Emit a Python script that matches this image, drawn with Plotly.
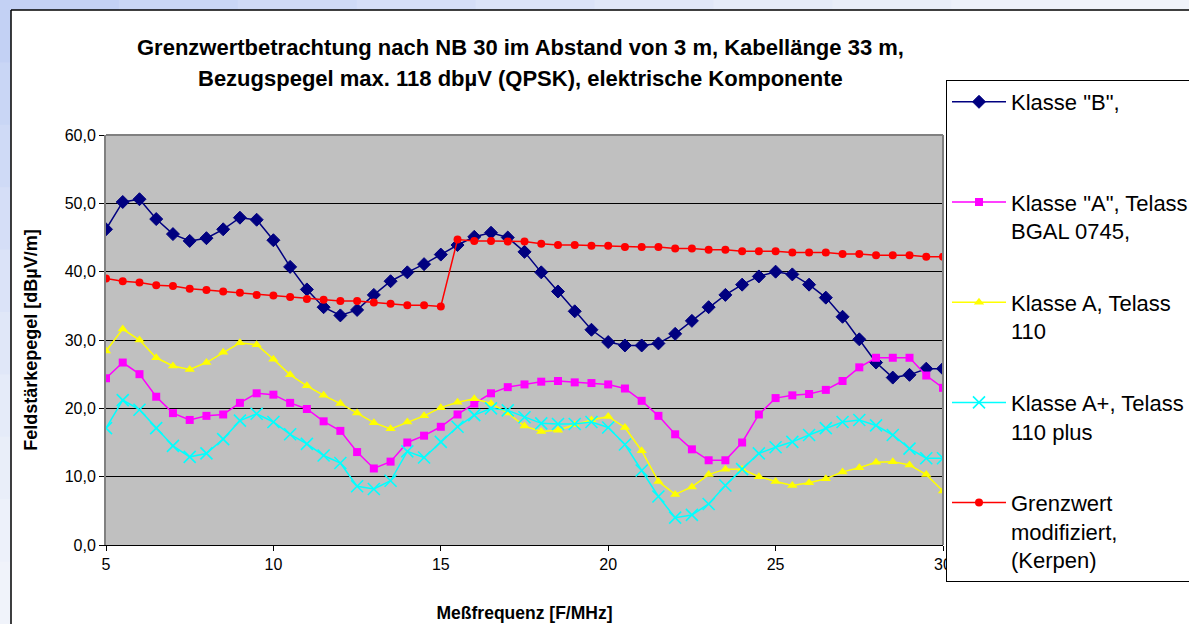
import plotly.graph_objects as go

# Messfrequenz in MHz
freq = [5.0, 5.5, 6.0, 6.5, 7.0, 7.5, 8.0, 8.5, 9.0, 9.5,
        10.0, 10.5, 11.0, 11.5, 12.0, 12.5, 13.0, 13.5, 14.0, 14.5,
        15.0, 15.5, 16.0, 16.5, 17.0, 17.5, 18.0, 18.5, 19.0, 19.5,
        20.0, 20.5, 21.0, 21.5, 22.0, 22.5, 23.0, 23.5, 24.0, 24.5,
        25.0, 25.5, 26.0, 26.5, 27.0, 27.5, 28.0, 28.5, 29.0, 29.5, 30.0]

klasse_b = [46.2, 50.2, 50.6, 47.7, 45.5, 44.5, 44.9, 46.2, 47.9, 47.6,
            44.6, 40.7, 37.4, 34.8, 33.6, 34.4, 36.6, 38.6, 39.9, 41.1,
            42.5, 43.9, 45.1, 45.7, 45.0, 42.9, 39.9, 37.1, 34.2, 31.5,
            29.7, 29.2, 29.2, 29.5, 30.9, 32.8, 34.8, 36.6, 38.1, 39.3,
            40.0, 39.6, 38.1, 36.2, 33.4, 30.1, 26.7, 24.5, 24.9, 25.8, 25.8]

klasse_a_bgal = [24.4, 26.7, 25.0, 21.7, 19.3, 18.3, 18.9, 19.1, 20.8, 22.2,
                 22.0, 20.8, 19.9, 18.1, 16.7, 13.6, 11.2, 12.2, 15.0, 16.0,
                 17.3, 19.1, 20.7, 22.2, 23.1, 23.5, 23.9, 24.0, 23.8, 23.7,
                 23.5, 22.9, 21.1, 18.9, 16.2, 14.0, 12.4, 12.4, 15.0, 19.1,
                 21.5, 21.9, 22.1, 22.7, 24.0, 26.0, 27.4, 27.4, 27.4, 24.8, 23.0]

klasse_a_110 = [28.4, 31.6, 30.0, 27.4, 26.2, 25.7, 26.7, 28.2, 29.6, 29.3,
                27.2, 24.9, 23.3, 21.9, 20.7, 19.3, 17.9, 17.0, 18.0, 18.9,
                20.1, 20.9, 21.4, 20.7, 19.3, 17.4, 16.6, 16.8, 17.6, 18.3,
                18.8, 17.2, 13.8, 9.3, 7.4, 8.5, 10.3, 11.1, 11.1, 10.0,
                9.3, 8.7, 9.1, 9.7, 10.7, 11.3, 12.1, 12.2, 11.7, 10.3, 7.9]

klasse_a_plus = [17.1, 21.2, 19.8, 17.1, 14.5, 12.9, 13.4, 15.5, 18.2, 19.2,
                 18.0, 16.2, 14.8, 13.1, 12.0, 8.6, 8.2, 9.4, 13.7, 12.8,
                 15.1, 17.3, 19.0, 20.0, 19.7, 18.7, 17.8, 17.7, 17.7, 18.0,
                 17.2, 14.7, 10.9, 7.1, 4.0, 4.4, 6.0, 8.7, 11.1, 13.4,
                 14.3, 15.1, 16.1, 17.1, 18.0, 18.3, 17.5, 16.1, 14.1, 12.7, 12.7]

grenzwert = [39.0, 38.6, 38.4, 38.0, 37.9, 37.5, 37.3, 37.1, 36.9, 36.6,
             36.5, 36.3, 36.0, 35.9, 35.7, 35.7, 35.5, 35.3, 35.1, 35.1,
             34.9, 44.7, 44.5, 44.5, 44.4, 44.4, 44.1, 43.9, 43.9, 43.8,
             43.8, 43.6, 43.6, 43.6, 43.4, 43.4, 43.2, 43.2, 43.0, 43.0,
             43.0, 42.8, 42.8, 42.8, 42.6, 42.6, 42.4, 42.4, 42.4, 42.2, 42.2]

W, H = 1189, 624
L, R = 106, 943          # plot area left/right (px)
T, B = 135, 545          # plot area top/bottom (px)
MT, MB = 10, 10          # outer margins, leave room for the tall legend
FONT = "Liberation Sans, Arial, sans-serif"


def px_x(px):
    return (px - L) / (R - L)


def px_y(py):
    return (H - MB - py) / (H - MT - MB)


series = [
    ('Klasse "B",<br> ', klasse_b, "#000080", "diamond", 10, 1),
    ('Klasse "A", Telass<br>BGAL 0745,', klasse_a_bgal, "#FF00FF", "square", 8, 0),
    ("Klasse A, Telass<br>110", klasse_a_110, "#FFFF00", "triangle-up", 9, 0),
    ("Klasse A+, Telass<br>110 plus", klasse_a_plus, "#00FFFF", "x-thin", 12, 1.6),
    ("Grenzwert<br>modifiziert,<br>(Kerpen)", grenzwert, "#FF0000", "circle", 8, 0),
]

fig = go.Figure()
for i, (name, vals, color, symbol, size, lw) in enumerate(series):
    fig.add_trace(go.Scatter(
        x=freq, y=vals, name=name, mode="lines+markers",
        legendgroup=f"g{i}",
        line=dict(color=color, width=1.5),
        marker=dict(symbol=symbol, size=size, color=color,
                    line=dict(color=color, width=lw)),
    ))

# light blue window frame at the top and left edge
shapes = []
frame_cols = ["#c3d1f4", "#c9d6f5", "#cfdaf6", "#d5def7", "#dbe3f8",
              "#e0e7f8", "#e5ebf9", "#e9eef9", "#edf1fa", "#f0f3fa"]
n = len(frame_cols)
for k, c in enumerate(frame_cols):
    shapes.append(dict(type="rect", xref="paper", yref="paper", layer="below",
                       x0=px_x(k * W / n), x1=px_x((k + 1) * W / n + 1),
                       y0=px_y(10), y1=px_y(-2), fillcolor=c, line_width=0))
    shapes.append(dict(type="rect", xref="paper", yref="paper", layer="below",
                       x0=px_x(-2), x1=px_x(11),
                       y0=px_y((k + 1) * H / n + 1), y1=px_y(k * H / n),
                       fillcolor=c, line_width=0))
shapes.append(dict(type="line", xref="paper", yref="paper", x0=px_x(11), x1=px_x(W + 5),
                   y0=px_y(10), y1=px_y(10), line=dict(color="#000000", width=1.5)))
shapes.append(dict(type="line", xref="paper", yref="paper", x0=px_x(11), x1=px_x(11),
                   y0=px_y(10), y1=px_y(H + 5), line=dict(color="#000000", width=1.5)))
# grey frame of the plot area (top and right)
shapes.append(dict(type="line", xref="x domain", yref="y domain", x0=0, x1=1, y0=1, y1=1,
                   line=dict(color="#808080", width=2)))
shapes.append(dict(type="line", xref="x domain", yref="y domain", x0=1, x1=1, y0=0, y1=1,
                   line=dict(color="#808080", width=2)))

title_font = dict(size=22, family=FONT, color="black", weight="bold")
annotations = [
    dict(text="Grenzwertbetrachtung nach NB 30 im Abstand von 3 m, Kabellänge 33 m,",
         xref="paper", yref="paper", x=px_x(520), y=px_y(47), showarrow=False,
         xanchor="center", yanchor="middle", font=title_font),
    dict(text="Bezugspegel max. 118 dbµV (QPSK), elektrische Komponente",
         xref="paper", yref="paper", x=px_x(520), y=px_y(78), showarrow=False,
         xanchor="center", yanchor="middle", font=title_font),
]

fig.update_layout(
    width=W, height=H,
    margin=dict(l=L, r=W - R, t=MT, b=MB, autoexpand=False),
    paper_bgcolor="white",
    plot_bgcolor="#C0C0C0",
    separators=",.",
    font=dict(family=FONT, color="black", size=16),
    shapes=shapes,
    annotations=annotations,
    showlegend=True,
    legend=dict(
        x=px_x(946), y=px_y(80), xanchor="left", yanchor="top",
        bgcolor="white", bordercolor="black", borderwidth=1,
        font=dict(size=22, family=FONT, color="black"),
        traceorder="grouped", tracegroupgap=40, valign="top",
        itemwidth=54,
    ),
)

fig.update_xaxes(
    range=[5, 30], dtick=5, tick0=5, showgrid=False, zeroline=False,
    domain=[0, 1],
    showline=True, linecolor="black", linewidth=1,
    ticks="outside", ticklen=5, tickcolor="black",
    title=dict(text="<b>Meßfrequenz [F/MHz]</b>", font=dict(size=17.5), standoff=34),
)
fig.update_yaxes(
    range=[0, 60], dtick=10, tickformat=".1f", showgrid=True,
    domain=[px_y(B), px_y(T)],
    gridcolor="black", gridwidth=1, zeroline=False,
    showline=True, linecolor="#808080", linewidth=2,
    ticks="outside", ticklen=5, tickcolor="black",
    title=dict(text="<b>Feldstärkepegel [dBµV/m]</b>", font=dict(size=18), standoff=22),
)

fig.write_html("out.html", config={"displayModeBar": False},
               post_script="document.body.style.margin='0';")
